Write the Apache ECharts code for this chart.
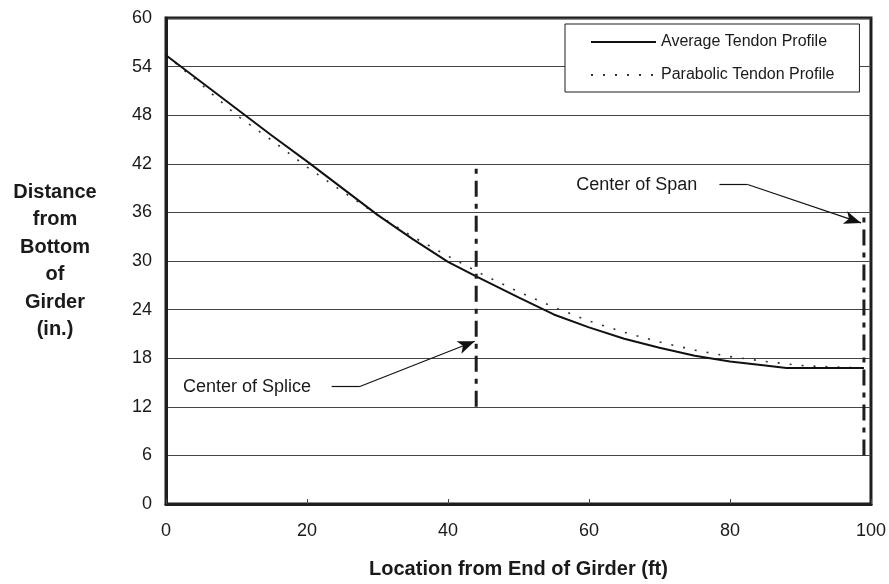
<!DOCTYPE html>
<html>
<head>
<meta charset="utf-8">
<script src="https://cdn.jsdelivr.net/npm/echarts@6/dist/echarts.min.js"></script>
<style>
html,body{margin:0;padding:0;background:#fff;}
#chart{width:889px;height:584px;}
</style>
</head>
<body>
<div id="chart"></div>
<script>
// ---- data ----
const avgLocation   = [0, 5, 10, 15, 20, 25, 30, 35, 40, 44, 50, 55, 60, 65, 70, 75, 80, 85, 88, 99];
const avgProfile    = [55.4, 52.1, 48.8, 45.5, 42.3, 39.0, 35.7, 32.7, 29.9, 28.1, 25.5, 23.4, 21.8, 20.4, 19.3, 18.3, 17.6, 17.1, 16.8, 16.8];
const parLocation   = [0, 5, 10, 15, 20, 25, 30, 35, 40, 45, 50, 55, 60, 65, 70, 75, 80, 85, 90, 95, 99];
const parProfile    = [55.4, 51.8, 48.0, 44.9, 41.6, 38.6, 35.7, 33.0, 30.6, 28.3, 26.2, 24.3, 22.6, 21.2, 20.0, 19.0, 18.2, 17.6, 17.1, 16.9, 16.8];
const seriesNames   = ['Average Tendon Profile', 'Parabolic Tendon Profile'];
const spliceLine    = {x: 44, from: 12, to: 42};   // center of splice marker (ft, in.)
const spanLine      = {x: 99, from: 6,  to: 36};   // center of span marker (ft, in.)
const annotations   = ['Center of Splice', 'Center of Span'];
const xTicks        = [0, 20, 40, 60, 80, 100];
const yTicks        = [0, 6, 12, 18, 24, 30, 36, 42, 48, 54, 60];

const zip = (xs, ys) => xs.map((x, i) => [x, ys[i]]);
const FONT = 'Liberation Sans, Arial, sans-serif';
const INK = '#1e1e1e';
const TEXT = '#1a1a1a';

const chart = echarts.init(document.getElementById('chart'), null, {renderer: 'canvas'});

const arrowLine = (a, b) => [
  {coord: a, symbol: 'none'},
  {coord: b, symbol: 'arrow', symbolSize: [10, 17]}
];
const plainLine = (a, b) => [
  {coord: a, symbol: 'none'},
  {coord: b, symbol: 'none'}
];

const option = {
  backgroundColor: '#fff',
  animation: false,
  grid: {
    left: 166, right: 17, top: 18, bottom: 76,
    show: true, borderColor: INK, borderWidth: 3, backgroundColor: 'transparent'
  },
  legend: {
    data: seriesNames,
    orient: 'vertical',
    left: 565, top: 24,
    padding: [10, 25, 9, 25],
    itemWidth: 65, itemHeight: 14, itemGap: 17,
    backgroundColor: '#fff',
    borderColor: INK, borderWidth: 1, borderRadius: 0,
    itemStyle: {opacity: 0},
    textStyle: {fontFamily: FONT, fontSize: 16, color: TEXT},
    selectedMode: false
  },
  xAxis: {
    type: 'value', min: xTicks[0], max: xTicks[xTicks.length - 1], interval: 20,
    name: 'Location from End of Girder (ft)',
    nameLocation: 'middle', nameGap: 65,
    nameTextStyle: {fontFamily: FONT, fontSize: 20, fontWeight: 'bold', color: TEXT, verticalAlign: 'middle'},
    axisLine: {show: true, lineStyle: {color: INK, width: 3}},
    axisTick: {show: true, inside: true, length: 5, lineStyle: {color: '#444', width: 1}},
    axisLabel: {fontFamily: FONT, fontSize: 18, color: TEXT, margin: 18},
    splitLine: {show: false}
  },
  yAxis: {
    type: 'value', min: yTicks[0], max: yTicks[yTicks.length - 1], interval: 6,
    name: 'Distance\nfrom\nBottom\nof\nGirder\n(in.)',
    nameLocation: 'middle', nameRotate: 0, nameGap: 111,
    nameTextStyle: {fontFamily: FONT, fontSize: 20, fontWeight: 'bold', color: TEXT,
                    align: 'center', verticalAlign: 'middle', lineHeight: 27.5, padding: [0, 0, 6, 0]},
    axisLine: {show: true, lineStyle: {color: INK, width: 3}},
    axisTick: {show: false},
    axisLabel: {fontFamily: FONT, fontSize: 18, color: TEXT, margin: 14},
    splitLine: {show: true, lineStyle: {color: '#444', width: 1.2}}
  },
  series: [
    {
      name: seriesNames[0], type: 'line', data: zip(avgLocation, avgProfile),
      symbol: 'none', smooth: false, z: 5,
      itemStyle: {color: '#111'},
      lineStyle: {color: '#111', width: 2}
    },
    {
      name: seriesNames[1], type: 'line', data: zip(parLocation, parProfile),
      symbol: 'none', smooth: false, z: 4,
      itemStyle: {color: '#333'},
      lineStyle: {color: '#333', width: 1.6, type: [2, 10]}
    },
    {
      name: 'splice', type: 'line', symbol: 'none', z: 6,
      data: [[spliceLine.x, spliceLine.from], [spliceLine.x, spliceLine.to]],
      lineStyle: {color: INK, width: 3, type: [16, 7, 5, 7]}
    },
    {
      name: 'span', type: 'line', symbol: 'none', z: 6,
      data: [[spanLine.x, spanLine.from], [spanLine.x, spanLine.to]],
      lineStyle: {color: INK, width: 3, type: [16, 7, 5, 7]}
    },
    {
      name: 'annotations', type: 'scatter', symbolSize: 0, z: 7,
      itemStyle: {opacity: 1, color: TEXT},
      data: [
        {name: annotations[0], value: [2.4, 14.5]},
        {name: annotations[1], value: [58.2, 39.4]}
      ],
      label: {
        show: true, formatter: '{b}', position: [0, 0],
        align: 'left', verticalAlign: 'middle',
        fontFamily: FONT, fontSize: 18, color: TEXT, opacity: 1
      },
      markLine: {
        silent: true, animation: false,
        label: {show: false},
        lineStyle: {color: '#111', width: 1.2, type: 'solid', opacity: 1},
        itemStyle: {color: '#111'},
        data: [
          plainLine([23.5, 14.5], [27.5, 14.5]),
          arrowLine([27.5, 14.5], [43.8, 20.1]),
          plainLine([78.5, 39.45], [82.5, 39.45]),
          arrowLine([82.5, 39.45], [98.6, 34.7])
        ]
      }
    }
  ]
};
chart.setOption(option);
</script>
</body>
</html>
